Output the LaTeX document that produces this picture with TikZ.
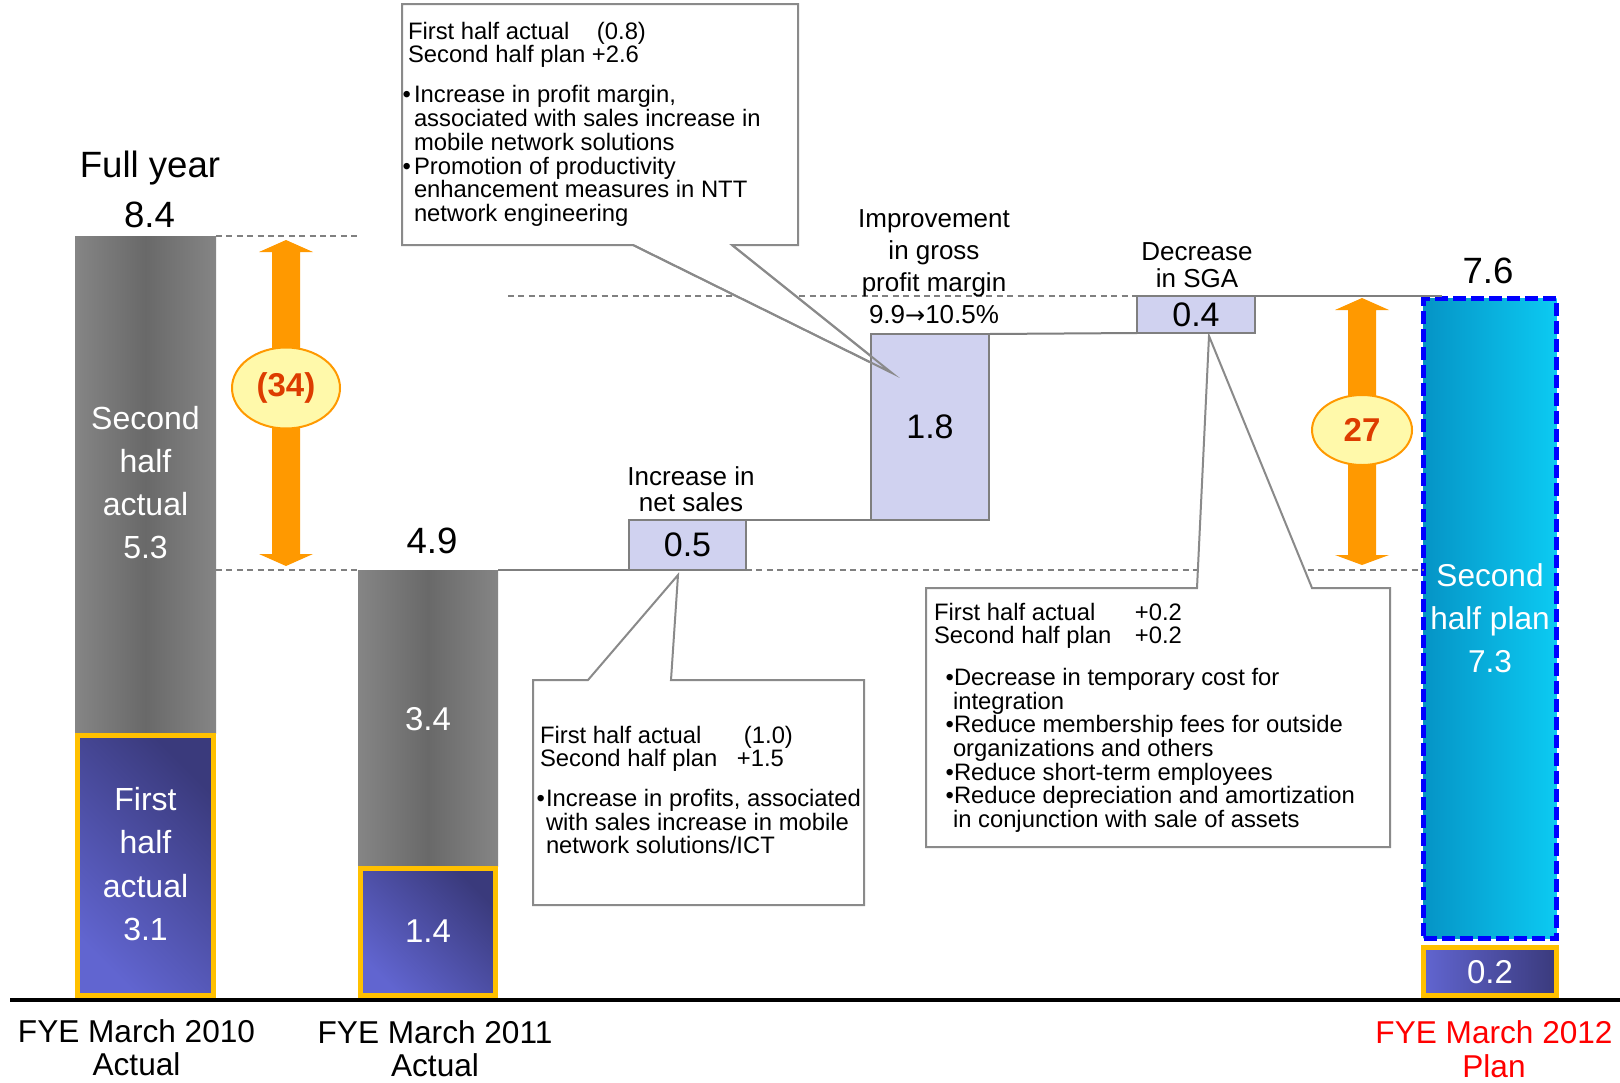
\documentclass[tikz,border=0pt]{standalone}
\usepackage{fontspec}
\setmainfont{Liberation Sans}
\newfontfamily\arrowfont{DejaVu Sans}
\usetikzlibrary{shapes.geometric}

\definecolor{linegray}{HTML}{808080}
\definecolor{calloutgray}{HTML}{8A8A8A}
\definecolor{barside}{HTML}{858585}
\definecolor{barcore}{HTML}{696969}
\definecolor{rimyellow}{HTML}{FFC000}
\definecolor{halfdark}{HTML}{3A3A7C}
\definecolor{halflight}{HTML}{6165D0}
\definecolor{steplav}{HTML}{D0D2F0}
\definecolor{steprim}{HTML}{7F7F7F}
\definecolor{arroworange}{HTML}{FF9900}
\definecolor{ovalfill}{HTML}{FFF9AA}
\definecolor{ovaltext}{HTML}{DD3C00}
\definecolor{plandark}{HTML}{0594C6}
\definecolor{planlight}{HTML}{0CCAF2}
\definecolor{planrim}{HTML}{0000FF}
\definecolor{planred}{HTML}{FF0000}

\newcommand\fs[2]{\fontsize{#1}{#2}\selectfont}

\begin{document}
\begin{tikzpicture}[x=0.5pt,y=-0.5pt,
  every node/.style={inner sep=0pt, outer sep=0pt},
  guide/.style={draw=linegray, line width=0.75pt, dash pattern=on 3pt off 2.2pt},
  link/.style={draw=steprim, line width=1pt},
  stepbox/.style={draw=steprim, line width=1pt, fill=steplav, font=\fs{17pt}{17pt}},
  callout/.style={draw=calloutgray, line width=1pt, fill=white},
  pointer/.style={draw=calloutgray, line width=1pt},
  graybar/.style={left color=barside, right color=barside, middle color=barcore},
  halfbox/.style={draw=rimyellow, line width=2.5pt, top color=halfdark, bottom color=halflight, shading angle=-45},
  barlabel/.style={text=white, align=center, anchor=south},
  axislabel/.style={align=center, anchor=south},
  steplabel/.style={align=center, anchor=south},
  note/.style={align=left, anchor=north west, font=\fs{11.9pt}{11.85pt}},
  twoway/.style={fill=arroworange},
  oval/.style={ellipse, draw=arroworange, line width=1pt, fill=ovalfill, text=ovaltext, font=\bfseries\fs{16.5pt}{16.5pt}},
]
\fill[white] (0,0) rectangle (1620,1082);
\useasboundingbox (0,0) rectangle (1620,1082);

% ---- columns ----
\node[graybar, minimum width=70.5pt, minimum height=248.5pt] (g1) at (145.5,484.5) {};
\node[halfbox, minimum width=68pt, minimum height=130pt] (h1) at (145.5,865.5) {};
\node[graybar, minimum width=70pt, minimum height=148pt] (g2) at (428,718) {};
\node[halfbox, minimum width=67.5pt, minimum height=63.5pt] (h2) at (428,932) {};
\node[draw=planrim, line width=2.5pt, dash pattern=on 6.5pt off 2.5pt,
      left color=plandark, right color=planlight,
      minimum width=66.5pt, minimum height=320pt] (plan) at (1490,618.5) {};
\node[draw=rimyellow, line width=2.5pt, left color=halflight, right color=halfdark,
      minimum width=66.5pt, minimum height=24pt] (ph) at (1490,971.5) {};

% ---- step boxes ----
\node[stepbox, minimum width=58.5pt, minimum height=25pt] (ns) at (687.5,545) {};
\node[stepbox, minimum width=59pt, minimum height=93pt] (gp) at (930,427) {};
\node[stepbox, minimum width=59pt, minimum height=18.5pt] (sga) at (1196,314.5) {};

% ---- level guides and step links ----
\draw[guide] (g1.north east) -- (358,236);
\draw[guide] (g1.east |- g2.north) -- (g2.north west);
\draw[link] (g2.north east) -- (ns.south west);
\draw[guide] (ns.south east) -- (plan.west |- ns.south);
\draw[link] (ns.north east) -- (gp.south west);
\draw[link] (gp.north east) -- (sga.south west);
\draw[guide] (508,296) -- (sga.north west);
\coordinate (planlead) at (1442,296);
\draw[link] (sga.north east) -- (planlead);

% ---- callouts ----
\filldraw[callout] (402,4) -- (798,4) -- (798,245) -- (732,245) -- (892,373) -- (633,245) -- (402,245) -- cycle;
\filldraw[callout] (533,680) -- (588,680) -- (678,575) -- (671,680) -- (864,680) -- (864,905) -- (533,905) -- cycle;
\filldraw[callout] (926,588) -- (1197,588) -- (1209,336) -- (1312,588) -- (1390,588) -- (1390,847) -- (926,847) -- cycle;
% step boxes redrawn over the callouts, then the pointer tip on top
\node[stepbox, minimum width=59pt, minimum height=93pt] (gp) at (930,427) {1.8};
\draw[pointer] (633,245) -- (892,373) -- (732,245);
\node[stepbox, minimum width=58.5pt, minimum height=25pt] (ns) at (687.5,545) {0.5};
\node[stepbox, minimum width=59pt, minimum height=18.5pt] (sga) at (1196,314.5) {0.4};

\node[note] (n1) at (408,19) {\rule{0pt}{10pt}\makebox[94.5pt][l]{First half actual}(0.8)\\
Second half plan +2.6\\[8.25pt]
\hspace*{3pt}\llap{\textbullet\hspace{1.5pt}}Increase in profit margin,\\
\hspace*{3pt}associated with sales increase in\\
\hspace*{3pt}mobile network solutions\\
\hspace*{3pt}\llap{\textbullet\hspace{1.5pt}}Promotion of productivity\\
\hspace*{3pt}enhancement measures in NTT\\
\hspace*{3pt}network engineering};

\node[note] (n2) at (540,723) {\rule{0pt}{10pt}\makebox[102pt][l]{First half actual}(1.0)\\
\makebox[98.5pt][l]{Second half plan}+1.5\\[8pt]
\hspace*{3pt}\llap{\textbullet\hspace{0.5pt}}Increase in profits, associated\\
\hspace*{3pt}with sales increase in mobile\\
\hspace*{3pt}network solutions/ICT};

\node[note, font=\fs{11.9pt}{11.8pt}] (n3) at (934,600) {\rule{0pt}{10pt}\makebox[100.5pt][l]{First half actual}+0.2\\
\makebox[100.5pt][l]{Second half plan}+0.2\\[9.2pt]
\hspace*{10pt}\llap{\textbullet}Decrease in temporary cost for\\
\hspace*{9.5pt}integration\\
\hspace*{10pt}\llap{\textbullet}Reduce membership fees for outside\\
\hspace*{9.5pt}organizations and others\\
\hspace*{10pt}\llap{\textbullet}Reduce short-term employees\\
\hspace*{10pt}\llap{\textbullet}Reduce depreciation and amortization\\
\hspace*{9.5pt}in conjunction with sale of assets};

% ---- step labels ----
\node[steplabel, font=\fs{13pt}{12.85pt}] (nsl) at (691,511.7) {Increase in\\net sales};
\node[steplabel, font=\fs{13pt}{15.85pt}] (gpl) at (934,323.3) {Improvement\\in gross\\profit margin\\9.9{\arrowfont\fontsize{12pt}{12pt}\selectfont →}10.5\%};
\node[steplabel, font=\fs{13pt}{13.35pt}] (sgal) at (1197,287.7) {Decrease\\in SGA};

% ---- two-way arrows with ovals ----
\fill[twoway] (286,240) -- (313,252) -- (300,252) -- (300,554) -- (313,554) -- (286,566)
  -- (259,554) -- (272,554) -- (272,252) -- (259,252) -- cycle;
\node[oval, minimum width=54pt, minimum height=40.5pt] (o34) at (286,388) {(34)};
\fill[twoway] (1362,298) -- (1389,310) -- (1376,310) -- (1376,555) -- (1389,555) -- (1362,565)
  -- (1335,555) -- (1348,555) -- (1348,310) -- (1335,310) -- cycle;
\node[oval, minimum width=50pt, minimum height=35pt] (o27) at (1362,430) {27};

% ---- column labels ----
\node[barlabel, font=\fs{16pt}{21.5pt}] (g1t) at (145.5,559) {Second\\half\\actual\\5.3};
\node[barlabel, font=\fs{16pt}{21.7pt}] (h1t) at (145.5,941) {First\\half\\actual\\3.1};
\node[barlabel, font=\fs{16.5pt}{16.5pt}] (g2t) at (428,731) {3.4};
\node[barlabel, font=\fs{16.5pt}{16.5pt}] (h2t) at (428,942.7) {1.4};
\node[barlabel, font=\fs{15.8pt}{21.5pt}] (plant) at (1490,672.8) {Second\\half plan\\7.3};
\node[barlabel, font=\fs{16.5pt}{16.5pt}] (pht) at (1490,983.5) {0.2};

\node[anchor=base, font=\fs{18.3pt}{18.3pt}] (fy) at (150,177) {Full year};
\node[anchor=base, font=\fs{18.3pt}{18.3pt}] (v84) at (149.5,227) {8.4};
\node[anchor=base, font=\fs{18.3pt}{18.3pt}] (v49) at (432,553) {4.9};
\node[anchor=base, font=\fs{18.3pt}{18.3pt}] (v76) at (1488,283) {7.6};

% ---- axis ----
\draw[line width=2pt] (10,1000) -- (1620,1000);
\node[axislabel, font=\fs{15.8pt}{16.5pt}] (x10) at (136.5,1076) {FYE March 2010\\Actual};
\node[axislabel, font=\fs{15.8pt}{16.5pt}] (x11) at (435,1077) {FYE March 2011\\Actual};
\node[axislabel, text=planred, font=\fs{15.8pt}{17pt}] (x12) at (1494,1078) {FYE March 2012\\Plan};
\end{tikzpicture}
\end{document}
